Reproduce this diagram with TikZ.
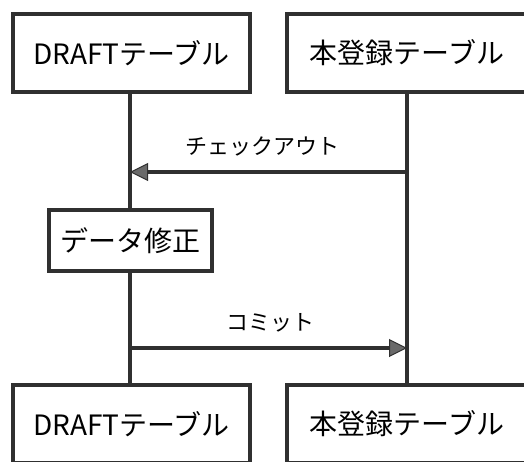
\documentclass[tikz,border=0pt]{standalone}
\usepackage{fontspec}
\setmainfont{Noto Sans CJK JP}
\usetikzlibrary{arrows.meta}
\definecolor{ink}{HTML}{303030}
\definecolor{tipfill}{HTML}{6A6A6A}
\tikzset{
  tablebox/.style={draw=ink, line width=3.5pt, fill=white, minimum width=237pt, minimum height=78pt, inner sep=0pt, font=\fontsize{28}{30}\selectfont, text=black},
  workbox/.style={draw=ink, line width=3.5pt, fill=white, minimum width=163pt, minimum height=61pt, inner sep=0pt, font=\fontsize{28}{30}\selectfont, text=black},
  msglabel/.style={font=\fontsize{22}{24}\selectfont, text=black, inner sep=0pt},
  lifeline/.style={draw=ink, line width=3.5pt},
  msg/.style={draw=ink, line width=3.5pt, -{Triangle[length=18pt,width=18pt,fill=tipfill,line width=1pt]}}
}
\begin{document}
\begin{tikzpicture}[x=1pt,y=-1pt]
\useasboundingbox (0,0) rectangle (524,462);
\clip (0,0) rectangle (524,462);
\node[tablebox] (d1) at (131.5,53) {DRAFTテーブル};
\node[tablebox, minimum width=240pt] (h1) at (407,53) {本登録テーブル};
\node[workbox] (fix) at (130.5,240.5) {データ修正};
\node[tablebox] (d2) at (131.5,424) {DRAFTテーブル};
\node[tablebox, minimum width=240pt] (h2) at (407,424) {本登録テーブル};
\coordinate (lt) at (130,92);
\coordinate (rt) at (407,92);
\coordinate (co1) at (407,172);
\coordinate (co2) at (130,172);
\coordinate (cm1) at (130,348);
\coordinate (cm2) at (407,348);
\draw[lifeline] (lt) -- (fix.north -| lt);
\draw[lifeline] (fix.south -| lt) -- (d2.north -| lt);
\draw[lifeline] (rt) -- (h2.north -| rt);
\draw[msg] (co1) -- (co2);
\draw[msg] (cm1) -- (cm2);
\node[msglabel] (lco) at (262,146) {チェックアウト};
\node[msglabel] (lcm) at (270,323) {コミット};
\end{tikzpicture}
\end{document}
